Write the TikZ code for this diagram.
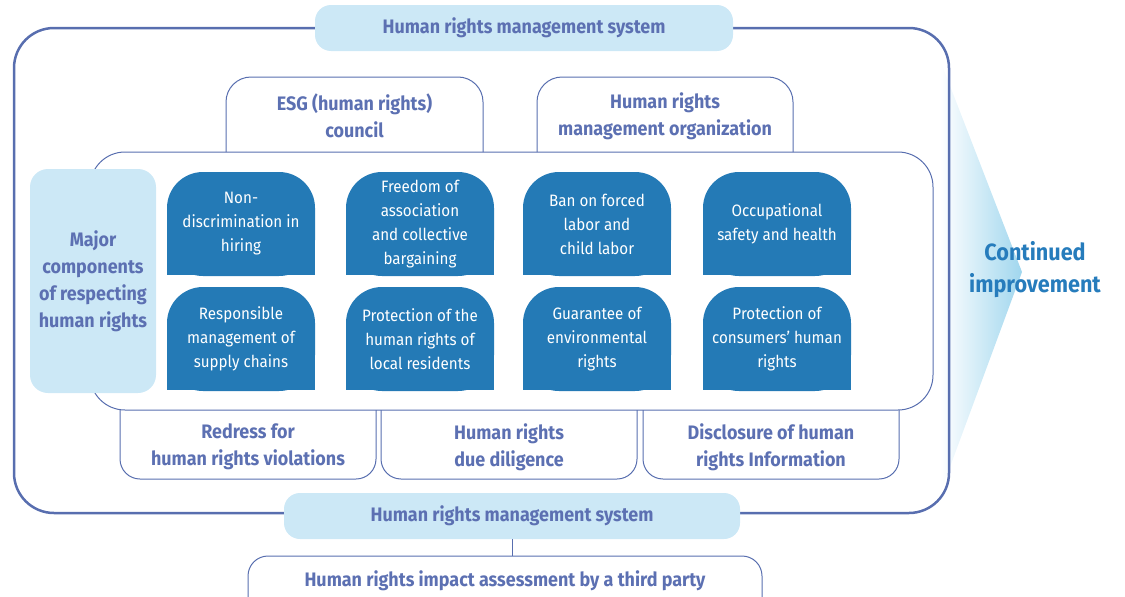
\documentclass[tikz,border=0pt]{standalone}
\usepackage{fontspec}
\setmainfont{Fira Sans}[FakeStretch=0.92]

\definecolor{hrnavy}{RGB}{92,112,178}
\definecolor{hrline}{RGB}{88,110,175}
\definecolor{hrpale}{RGB}{204,232,246}
\definecolor{hrtile}{RGB}{36,122,182}
\definecolor{hrcont}{RGB}{38,124,188}
\definecolor{hrfade}{RGB}{160,214,238}

\tikzset{
  head/.style={text=hrnavy, font=\bfseries\fontsize{19.5}{27}\selectfont, align=center},
  pill/.style={head, fill=hrpale, rounded corners=16, minimum height=46},
  tile/.style={fill=hrtile, rounded corners=36, minimum width=148, minimum height=104,
    text=white, font=\fontsize{16.5}{24}\selectfont, align=center},
  thinbox/.style={draw=hrline, line width=1},
}

\begin{document}
\begin{tikzpicture}[x=1pt, y=-1pt]
  \useasboundingbox (0,0) rectangle (1125,597);

  % Continued improvement
  \shade[left color=white, right color=hrfade] (940,60) -- (1022,272) -- (940,494) -- cycle;
  \node[font=\bfseries\fontsize{23.5}{32}\selectfont, text=hrcont, align=center] (cont)
    at (1035,270) {Continued\\improvement};

  % outer frame
  \draw[hrline, line width=2.5, rounded corners=40] (14,28) rectangle (949,513);
  \node[pill, minimum width=418] (systop) at (524,28) {Human rights management system};
  \node[pill, minimum width=456] (sysbot) at (512,516) {Human rights management system};

  % third party
  \node[thinbox, rounded corners=20, minimum width=514, minimum height=80] (impact) at (505,596) {};
  \node[head] (impacttext) at (505,581) {Human rights impact assessment by a third party};
  \draw[hrline] (sysbot.south) -- (sysbot.south |- impact.north);

  % organisation
  \draw[thinbox, rounded corners=25] (226,152) -- (226,77) -- (483,77) -- (483,152);
  \draw[thinbox, rounded corners=25] (537,152) -- (537,77) -- (793,77) -- (793,152);
  \node[head] (esg) at (354.5,116) {ESG (human rights)\\council};
  \node[head] (org) at (665,116) {Human rights\\management organization};

  % components
  \draw[thinbox, rounded corners=35] (90,152) rectangle (933,410);

  \draw[thinbox, rounded corners=20] (120,410) -- (120,479) -- (376,479) -- (376,410);
  \draw[thinbox, rounded corners=20] (381,410) -- (381,479) -- (637,479) -- (637,410);
  \draw[thinbox, rounded corners=20] (643,410) -- (643,479) -- (899,479) -- (899,410);
  \node[head] (redress) at (248,447) {Redress for\\human rights violations};
  \node[head] (diligence) at (509,447) {Human rights\\due diligence};
  \node[head] (disclosure) at (771,447) {Disclosure of human\\rights Information};

  \node[head, fill=hrpale, rounded corners=18, minimum width=126, minimum height=224] (major)
    at (93,281) {Major\\components\\of respecting\\human rights};

  \foreach \x in {167,346,523,703}
    \foreach \y in {223,338}
      \fill[hrtile] (\x,\y) rectangle ++(148,52);

  \node[tile] (hiring) at (241,224) {Non-\\discrimination in\\hiring};
  \node[tile] (assoc) at (420,224) {Freedom of\\association\\and collective\\bargaining};
  \node[tile] (forced) at (597,224) {Ban on forced\\labor and\\child labor};
  \node[tile] (safety) at (777,224) {Occupational\\safety and health};
  \node[tile] (supply) at (241,339) {Responsible\\management of\\supply chains};
  \node[tile] (local) at (420,339) {Protection of the\\human rights of\\local residents};
  \node[tile] (envir) at (597,339) {Guarantee of\\environmental\\rights};
  \node[tile] (consum) at (777,339) {Protection of\\consumers' human\\rights};

\end{tikzpicture}
\end{document}
